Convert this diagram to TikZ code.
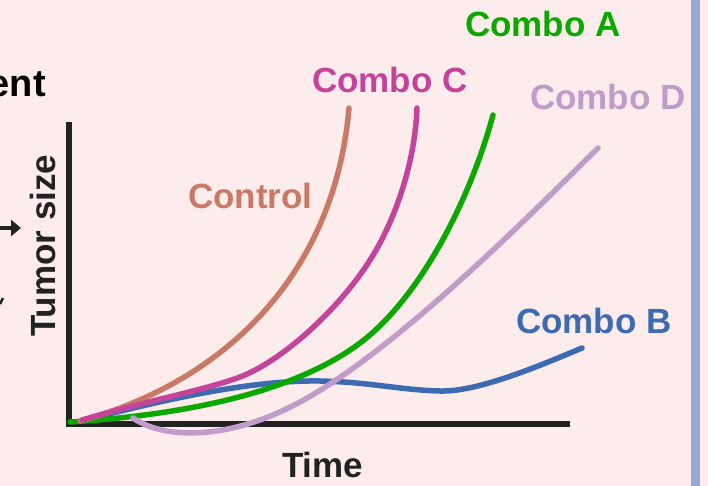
\documentclass[tikz,border=0pt]{standalone}
\usepackage{fontspec}
\setmainfont{Liberation Sans}
\usetikzlibrary{arrows.meta}
\definecolor{bg}{HTML}{FCECEC}
\definecolor{sidebar}{HTML}{96A9D4}
\definecolor{axiscol}{HTML}{222222}
\definecolor{cA}{HTML}{0BA800}
\definecolor{cB}{HTML}{3C6BB2}
\definecolor{cC}{HTML}{C4449C}
\definecolor{cD}{HTML}{C19CCB}
\definecolor{cCtrl}{HTML}{C97A66}
\tikzset{
  lbl/.style={inner sep=0pt, anchor=base west, font=\fontsize{35}{40}\selectfont\bfseries},
  curve/.style={line width=5.5pt, line cap=round, line join=round},
  axisline/.style={line width=6pt, draw=axiscol},
}
\begin{document}
\begin{tikzpicture}[x=1pt,y=-1pt]
\useasboundingbox (0,0) rectangle (708,486);
\fill[bg] (0,0) rectangle (708,486);
\fill[sidebar] (691,0) rectangle (700,486);
\begin{scope}
\clip (0,0) rectangle (708,486);
\node[lbl, anchor=base east, font=\fontsize{38}{44}\selectfont\bfseries] (ent) at (46,97) {ent};
\end{scope}
\coordinate (arrS) at (0,228);
\coordinate (arrE) at (21,228);
\draw[line width=4pt, -{Triangle[length=10pt,width=16pt]}, axiscol] (arrS) -- (arrE);
\coordinate (tickA) at (0,304);
\coordinate (tickB) at (3,298);
\draw[line width=2.5pt, axiscol] (tickA) -- (tickB);
% axes
\coordinate (ytop) at (69,122);
\coordinate (orig) at (69,424);
\coordinate (xend) at (570,424);
\draw[axisline] (ytop) -- (orig) -- (xend);
% curves
\draw[curve, cB] (82,421) .. controls (180,395) and (260,380) .. (320,381)
  .. controls (370,382) and (400,390) .. (440,391)
  .. controls (475,392) and (530,370) .. (582,348);
\draw[curve, cA] (70,422) .. controls (200,414) and (300,388) .. (360,343)
  .. controls (420,298) and (470,200) .. (493,115);
\draw[curve, cD] (133,418) .. controls (165,440) and (230,440) .. (300,402)
  .. controls (400,348) and (540,205) .. (598,148);
\draw[curve, cCtrl] (80,421) .. controls (230,380) and (335,270) .. (349,108);
\draw[curve, cC] (82,420) .. controls (150,400) and (205,390) .. (240,377)
  .. controls (285,360) and (350,300) .. (380,243)
  .. controls (398,209) and (415,160) .. (417,108);
% labels
\node[lbl, text=cA] (la) at (465,37) {Combo A};
\node[lbl, text=cC] (lc) at (312,93) {Combo C};
\node[lbl, text=cD] (ld) at (530,110) {Combo D};
\node[lbl, text=cB] (lb) at (516,333) {Combo B};
\node[lbl, text=cCtrl] (lctrl) at (188,208) {Control};
\node[lbl, text=axiscol] (ltime) at (282,477) {Time};
\node[lbl, text=axiscol, rotate=90] (lsize) at (55,337) {Tumor size};
\end{tikzpicture}
\end{document}
